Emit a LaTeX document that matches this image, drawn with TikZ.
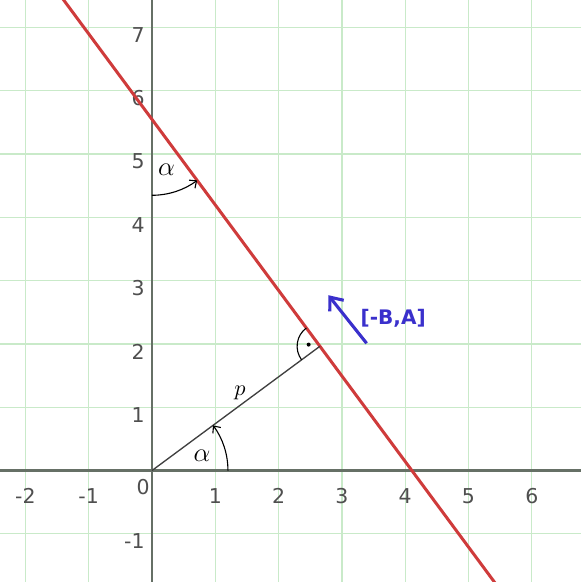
\documentclass[tikz,border=0pt]{standalone}
\usepackage{fontspec}
\newfontfamily\labfont{DejaVu Sans}
\usetikzlibrary{arrows.meta}
\definecolor{gridgreen}{HTML}{C9EAC9}
\definecolor{axisgray}{HTML}{667066}
\definecolor{linered}{HTML}{CF3B3B}
\definecolor{vecblue}{HTML}{3A30CC}
\definecolor{labgray}{HTML}{4F4F4F}
\tikzset{
  ticklab/.style={text=labgray,font=\labfont\fontsize{9.2}{11}\selectfont,inner sep=0pt},
  anglearc/.style={line width=0.5pt,-{Straight Barb[length=2.5pt,width=4.5pt]}},
  anglab/.style={font=\large,inner sep=0pt}
}
\begin{document}
\begin{tikzpicture}
[x=1cm,y=1cm]
\useasboundingbox (-2.401,-1.761) rectangle (6.777,7.433);
\clip (-2.401,-1.761) rectangle (6.777,7.433);
\fill[white] (-2.401,-1.761) rectangle (6.777,7.433);
\draw[gridgreen,line width=0.55pt] (-2.401,-1.761) grid (6.777,7.433);
% axes
\coordinate (xw) at (-2.401,0);
\coordinate (xe) at (6.777,0);
\coordinate (ys) at (0,-1.761);
\coordinate (yn) at (0,7.433);
\draw[axisgray,line width=1.3pt] (xw)--(xe);
\draw[axisgray,line width=1.3pt] (ys)--(yn);
\draw (-2,-0.4) node[ticklab] (tx1) {-2};
\draw (-1,-0.4) node[ticklab] (tx2) {-1};
\draw (-0.14,-0.26) node[ticklab] (tx0) {0};
\draw (1,-0.4) node[ticklab] (tx3) {1};
\draw (2,-0.4) node[ticklab] (tx4) {2};
\draw (3,-0.4) node[ticklab] (tx5) {3};
\draw (4,-0.4) node[ticklab] (tx6) {4};
\draw (5,-0.4) node[ticklab] (tx7) {5};
\draw (6,-0.4) node[ticklab] (tx8) {6};
\draw (-0.11,-1.12) node[ticklab,anchor=east] (ty0) {-1};
\draw (-0.11,0.88) node[ticklab,anchor=east] (ty1) {1};
\draw (-0.11,1.88) node[ticklab,anchor=east] (ty2) {2};
\draw (-0.11,2.88) node[ticklab,anchor=east] (ty3) {3};
\draw (-0.11,3.88) node[ticklab,anchor=east] (ty4) {4};
\draw (-0.11,4.88) node[ticklab,anchor=east] (ty5) {5};
\draw (-0.11,5.88) node[ticklab,anchor=east] (ty6) {6};
\draw (-0.11,6.88) node[ticklab,anchor=east] (ty7) {7};
% the line and its normal
\coordinate (O) at (0,0);
\coordinate (F) at (36.5:3.3);
\coordinate (Yi) at (0,5.548);
\coordinate (Ltop) at (-1.63,7.75);
\coordinate (Lbot) at (5.63,-2.06);
\draw[linered,line width=1.35pt] (Ltop)--(Lbot);
\draw[black!75,line width=0.6pt] (O)--(F);
\draw (1.39,1.22) node[inner sep=0pt] (plab) {$p$};
% angles
\draw[anglearc] (1.2,0) arc[start angle=0,end angle=36.5,radius=1.2];
\draw (0.79,0.24) node[anglab] (alo) {$\alpha$};
\draw[anglearc] ([yshift=-1.2cm]Yi) arc[start angle=-90,end angle=-53.5,radius=1.2];
\draw (0.23,4.75) node[anglab] (aup) {$\alpha$};
\draw[line width=0.5pt] ([shift={(126.5:0.36)}]F) arc[start angle=126.5,end angle=216.5,radius=0.36];
\fill ([shift={(171.5:0.18)}]F) circle (0.9pt);
% direction vector
\coordinate (Vt) at (3.39,2.01);
\coordinate (Vh) at (2.785,2.77);
\draw[vecblue,line width=1.4pt,-{Straight Barb[length=5pt,width=8pt]}] (Vt)--(Vh);
\draw (3.81,2.40) node[text=vecblue,font=\labfont\bfseries\fontsize{9}{11}\selectfont] (vlab) {[-B,A]};
\end{tikzpicture}
\end{document}
